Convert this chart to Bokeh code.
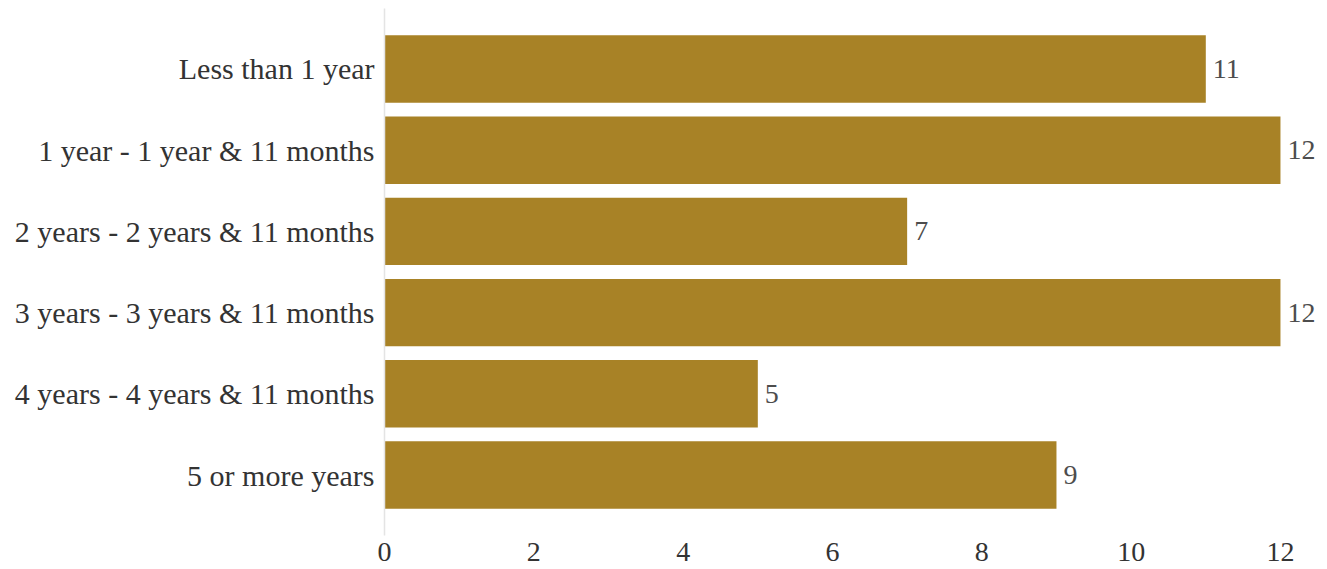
from bokeh.plotting import figure
from bokeh.models import FactorRange, Range1d, FixedTicker, ColumnDataSource
from bokeh.core.properties import value
from bokeh.embed import file_html
from bokeh.resources import INLINE

categories = [
    "Less than 1 year",
    "1 year - 1 year & 11 months",
    "2 years - 2 years & 11 months",
    "3 years - 3 years & 11 months",
    "4 years - 4 years & 11 months",
    "5 or more years",
]
counts = [11, 12, 7, 12, 5, 9]
x_ticks = [0, 2, 4, 6, 8, 10, 12]

FONT = "Liberation Serif"
FS = "30px"
FS_NUM = "28px"

src = ColumnDataSource(dict(cat=categories, n=counts, lbl=[str(v) for v in counts]))

p = figure(
    width=1327, height=569,
    y_range=FactorRange(factors=list(reversed(categories)), range_padding=0.245,
                        range_padding_units="absolute"),
    x_range=Range1d(0, 12.63),
    output_backend="svg", toolbar_location=None,
    min_border_left=384, min_border_right=0, min_border_top=8, min_border_bottom=34,
)
p.outline_line_color = None
p.background_fill_color = "white"
p.xgrid.grid_line_color = None
p.ygrid.grid_line_color = None

p.hbar(y="cat", right="n", left=0, height=0.83, source=src,
       fill_color="#A88226", line_color=None)
p.text(x="n", y="cat", text="lbl", source=src, x_offset=7,
       text_baseline="middle", text_align="left",
       text_font=value(FONT), text_font_size=FS_NUM, text_color="#4d4d4d")

yax = p.yaxis[0]
yax.axis_line_color = "#e4e4e4"
yax.axis_line_width = 1.5
yax.major_tick_line_color = None
yax.minor_tick_line_color = None
yax.major_tick_out = 0
yax.major_tick_in = 0
yax.major_label_standoff = 10
yax.major_label_text_font = FONT
yax.major_label_text_font_size = FS
yax.major_label_text_color = "#333333"

xax = p.xaxis[0]
xax.ticker = FixedTicker(ticks=x_ticks)
xax.axis_line_color = None
xax.major_tick_line_color = None
xax.minor_tick_line_color = None
xax.major_tick_out = 0
xax.major_tick_in = 0
xax.major_label_standoff = 7
xax.major_label_text_font = FONT
xax.major_label_text_font_size = FS_NUM
xax.major_label_text_color = "#333333"

open("out.html", "w").write(file_html(p, INLINE))
